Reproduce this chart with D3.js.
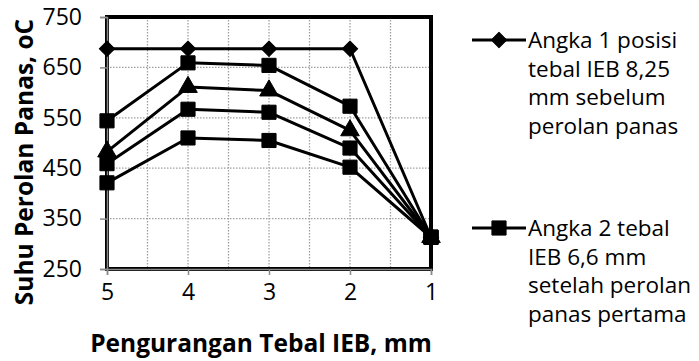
<!DOCTYPE html>
<html>
<head>
<meta charset="utf-8">
<script src="https://cdn.jsdelivr.net/npm/d3@7"></script>
<style>
  html, body { margin: 0; padding: 0; background: #fff; }
  svg text { font-family: "Open Sans", sans-serif; fill: #000; }
</style>
</head>
<body>
<div id="chart"></div>
<script>
// data
const reductions = [5, 4, 3, 2, 1];
const yTicks = [250, 350, 450, 550, 650, 750];
const series1 = [687, 687, 687, 687, 313];
const series2 = [544, 659, 654, 573, 313];
const series3 = [483, 611, 604, 525, 313];
const series4 = [459, 567, 561, 490, 313];
const series5 = [421, 510, 505, 452, 313];
const markers = ['diamond', 'square', 'triangle', 'square', 'square'];
const legendLabels = [
    ['Angka 1 posisi', 'tebal IEB 8,25', 'mm sebelum', 'perolan panas'],
    ['Angka 2 tebal', 'IEB 6,6 mm', 'setelah perolan', 'panas pertama']
];

const allSeries = [series1, series2, series3, series4, series5];

const width = 699, height = 361;
const margin = { left: 107, right: 268, top: 17, bottom: 92 };

const svg = d3.select('#chart').append('svg')
    .attr('width', width)
    .attr('height', height);

const x = d3.scaleLinear().domain([5, 1]).range([margin.left, width - margin.right]);
const y = d3.scaleLinear().domain([250, 750]).range([height - margin.bottom, margin.top]);

const fontSize = 23;
const titleSize = 24.5;

// grid
const grid = svg.append('g');
grid.selectAll('line.v')
    .data(d3.range(1.5, 5, 0.5))
    .join('line')
    .attr('x1', d => x(d)).attr('x2', d => x(d))
    .attr('y1', y(750)).attr('y2', y(250))
    .attr('stroke', '#a0a0a0').attr('stroke-width', 1.3)
    .attr('stroke-dasharray', '1.5,1.5');
grid.selectAll('line.h')
    .data(yTicks.slice(1, -1))
    .join('line')
    .attr('x1', x(5)).attr('x2', x(1))
    .attr('y1', d => y(d)).attr('y2', d => y(d))
    .attr('stroke', '#a0a0a0').attr('stroke-width', 1.3)
    .attr('stroke-dasharray', '1.5,1.5');

// plot area border
svg.append('rect')
    .attr('x', x(5)).attr('y', y(750))
    .attr('width', x(1) - x(5)).attr('height', y(250) - y(750))
    .attr('fill', 'none').attr('stroke', '#000').attr('stroke-width', 4);

// axes
const yAxis = d3.axisLeft(y).tickValues(yTicks).tickSize(7).tickPadding(18);
const xAxis = d3.axisBottom(x).tickValues(reductions).tickSize(6).tickPadding(9).tickFormat(d3.format('d'));

const yg = svg.append('g').attr('transform', `translate(${x(5)},0)`).call(yAxis);
const xg = svg.append('g').attr('transform', `translate(0,${y(250)})`).call(xAxis);

[yg, xg].forEach(g => {
    g.select('.domain').attr('stroke', '#8a8a8a').attr('stroke-width', 1.5);
    g.selectAll('.tick line').attr('stroke', '#8a8a8a').attr('stroke-width', 1.5);
    g.selectAll('.tick text')
        .attr('font-family', '"Open Sans", sans-serif')
        .attr('font-size', fontSize)
        .attr('fill', '#000');
});

// series lines
const line = d3.line()
    .x((d, i) => x(reductions[i]))
    .y(d => y(d));

const symbolFor = {
    diamond: d3.symbol().type(d3.symbolSquare).size(120),
    square: d3.symbol().type(d3.symbolSquare).size(200),
    triangle: d3.symbol().type(d3.symbolTriangle).size(150)
};

function drawMarker(g, kind, cx, cy) {
    const p = g.append('path')
        .attr('d', symbolFor[kind]())
        .attr('fill', '#000')
        .attr('stroke', '#000')
        .attr('stroke-width', 1)
        .attr('stroke-linejoin', 'round');
    if (kind === 'diamond') {
        p.attr('transform', `translate(${cx},${cy}) rotate(45)`);
    } else {
        p.attr('transform', `translate(${cx},${cy})`);
    }
}

const seriesG = svg.append('g');
allSeries.forEach((vals, si) => {
    seriesG.append('path')
        .datum(vals)
        .attr('d', line)
        .attr('fill', 'none')
        .attr('stroke', '#000')
        .attr('stroke-width', 3)
        .attr('stroke-linejoin', 'round');
});
allSeries.forEach((vals, si) => {
    vals.forEach((v, i) => drawMarker(seriesG, markers[si], x(reductions[i]), y(v)));
});

// axis titles
svg.append('text')
    .attr('x', 261)
    .attr('y', 352)
    .attr('text-anchor', 'middle')
    .attr('font-size', titleSize)
    .attr('font-weight', 'bold')
    .text('Pengurangan Tebal IEB, mm');

svg.append('text')
    .attr('transform', `translate(33,162) rotate(-90)`)
    .attr('text-anchor', 'middle')
    .attr('font-size', titleSize)
    .attr('font-weight', 'bold')
    .text('Suhu Perolan Panas, oC');

// legend
const legendRows = [40, 228];
const legend = svg.append('g');
legendLabels.forEach((lines, li) => {
    const ly = legendRows[li];
    legend.append('line')
        .attr('x1', 472).attr('x2', 526)
        .attr('y1', ly).attr('y2', ly)
        .attr('stroke', '#000').attr('stroke-width', 3);
    drawMarker(legend, markers[li], 499, ly);
    lines.forEach((t, k) => {
        legend.append('text')
            .attr('x', 528)
            .attr('y', ly + k * 28.5 + 8)
            .attr('font-size', 22.5)
            .text(t);
    });
});
</script>
</body>
</html>
